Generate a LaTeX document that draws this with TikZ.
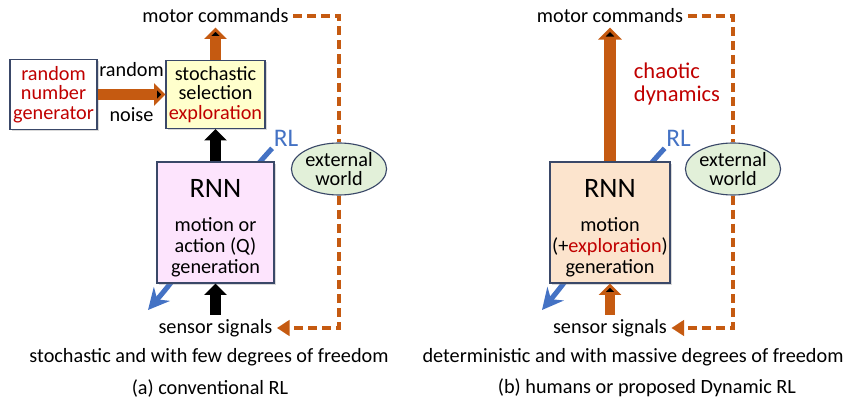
\documentclass[tikz,border=0pt]{standalone}
\usepackage{fontspec}
\setmainfont{Carlito}
\usepackage{tikz}
\usetikzlibrary{arrows.meta,shapes.geometric,shadows,backgrounds}

\definecolor{rlorange}{HTML}{C55A11}
\definecolor{rlred}{HTML}{C00000}
\definecolor{rlblue}{HTML}{4472C4}
\definecolor{rlframe}{HTML}{3A4868}
\definecolor{rlyellow}{HTML}{FFFFCC}
\definecolor{rlpink}{HTML}{FDE4FD}
\definecolor{rlpeach}{HTML}{FCE4CD}
\definecolor{rlgreen}{HTML}{E2F0D9}

\begin{document}
\begin{tikzpicture}[x=0.025cm, y=-0.025cm, font=\fontsize{14.4}{14}\selectfont,
    box/.style={draw=rlframe, line width=0.8pt, align=center, inner sep=1pt,
        drop shadow={shadow xshift=1.2pt, shadow yshift=-1.2pt, opacity=0.3}},
    world/.style={ellipse, draw=rlframe, line width=0.8pt, fill=rlgreen, align=center,
        minimum width=2.25cm, minimum height=1.3cm, inner sep=0pt},
    txt/.style={inner sep=3pt},
    rltxt/.style={inner sep=1pt, text=rlblue, font=\fontsize{18}{20}\selectfont},
    blockarrow/.style={line width=7.8pt, -{Triangle[width=15.6pt, length=8pt]}},
    tallarrow/.style={line width=9pt, -{Triangle[width=16.4pt, length=8.5pt]}},
    dashline/.style={draw=rlorange, line width=2.6pt, dash pattern=on 6.5pt off 3.5pt},
    dashtip/.style={-{Triangle[width=11pt, length=9pt]}},
    rlarrow/.style={draw=rlblue, line width=3.6pt, -{Stealth[width=15pt, length=15pt, inset=5pt]}}]

    \useasboundingbox (0,0) rectangle (844,400);

    % Nodes, (a) conventional RL
    \node [txt]    (mcA)   at (215.5,16)  {motor commands};
    \node [box, fill=white, text=rlred, minimum width=2.175cm, minimum height=1.75cm]
                   (rng)   at (53.5,94.5) {random\\number\\generator};
    \node [box, fill=rlyellow, minimum width=2.475cm, minimum height=1.7cm]
                   (sel)   at (215.5,94.5) {stochastic\\selection\\\textcolor{rlred}{exploration}};
    \node [box, fill=rlpink, minimum width=2.925cm, minimum height=3.025cm]
                   (rnnA)  at (215.5,222.5) {{\fontsize{20}{22}\selectfont\rule{0pt}{21pt}RNN}\\[10pt]motion or\\[1pt]action (Q)\\[1pt]generation};
    \node [world]  (ewA)   at (339,169)   {external\\world};
    \node [rltxt]  (rlA)   at (286,138.5) {RL};
    \node [txt]    (ssA)   at (215.5,328) {sensor signals};
    \coordinate    (endA)  at (148,310);
    \node [txt]    (capA)  at (209,357)   {stochastic and with few degrees of freedom};
    \node [txt]    (subA)  at (210,388)   {(a) conventional RL};

    % Nodes, (b) humans or proposed Dynamic RL
    \node [txt]    (mcB)   at (610,16)    {motor commands};
    \node [txt, text=rlred, align=left, font=\fontsize{16}{17}\selectfont]
                   (chaos) at (677,84)    {chaotic\\dynamics};
    \node [box, fill=rlpeach, minimum width=3cm, minimum height=3.025cm]
                   (rnnB)  at (610,222.5) {{\fontsize{20}{22}\selectfont\rule{0pt}{21pt}RNN}\\[10pt]motion\\[1pt](+\textcolor{rlred}{exploration})\\[1pt]generation};
    \node [world]  (ewB)   at (733,169)   {external\\world};
    \node [rltxt]  (rlB)   at (678.5,138.5) {RL};
    \node [txt]    (ssB)   at (610,328)   {sensor signals};
    \coordinate    (endB)  at (542,310);
    \node [txt]    (capB)  at (633,357)   {deterministic and with massive degrees of freedom};
    \node [txt]    (subB)  at (647,388)   {(b) humans or proposed Dynamic RL};

    % RL arrows behind the RNN boxes
    \begin{scope}[on background layer]
    \draw [rlarrow] (rlA.south west) .. controls (220,205) and (200,250) .. (endA);
    \draw [rlarrow] (rlB.south west) .. controls (612,205) and (592,250) .. (endB);
    \end{scope}

    % Paths (a)
    \path [blockarrow, draw=rlorange] (sel) edge (mcA);
    \path [blockarrow, draw=rlorange, line width=8.5pt]
        (rng) edge node [above=5pt] {random} node [below=2pt] {noise} (sel);
    \path [blockarrow, draw=black] (rnnA) edge (sel);
    \path [blockarrow, draw=black] (ssA)  edge (rnnA);
    \draw [dashline] (mcA.east) -| (ewA.north);
    \draw [dashline, dashtip] (ewA.south) |- (ssA.east);

    % Paths (b)
    \path [tallarrow, draw=rlorange] (rnnB) edge (mcB);
    \path [blockarrow, draw=rlorange] (ssB) edge (rnnB);
    \draw [dashline] (mcB.east) -| (ewB.north);
    \draw [dashline, dashtip] (ewB.south) |- (ssB.east);

\end{tikzpicture}
\end{document}
